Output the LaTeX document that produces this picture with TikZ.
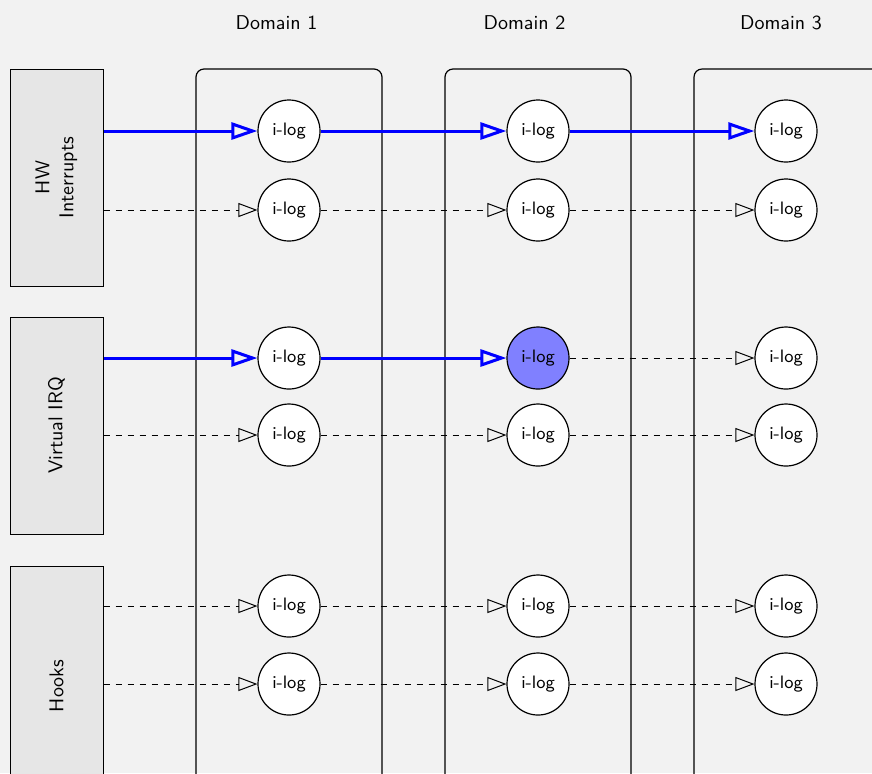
\documentclass[tikz,border=0pt]{standalone}
\usetikzlibrary{arrows.meta}
\definecolor{bggray}{HTML}{F2F2F2}
\definecolor{srcgray}{HTML}{E6E6E6}
\definecolor{hilite}{HTML}{8080FF}
\tikzset{
  ilog/.style={circle, draw, fill=white, minimum size=31pt, inner sep=0pt, font=\sffamily\small},
  cell32/.style={fill=hilite},
  source/.style={draw, fill=srcgray, line width=0.5pt, minimum width=46.5pt, inner sep=0pt, font=\sffamily},
  domainbox/.style={draw, rounded corners=4pt},
  strong/.style={draw=blue, line width=1.5pt, -{Triangle[open,length=13pt,width=8.5pt]}},
  weak/.style={dashed, line width=0.5pt, -{Triangle[open,length=9.5pt,width=7pt]}}
}
\begin{document}
\begin{tikzpicture}[x=0.5pt, y=-0.5pt, line width=0.6pt]
\useasboundingbox (0,0) rectangle (872,773);
\fill[bggray] (0,0) rectangle (872,773);
\clip (0,0) rectangle (872,773);
% domains
\draw[domainbox] (196,820) |- (382,69) -- (382,820);
\draw[domainbox] (445,820) |- (631,69) -- (631,820);
\draw[domainbox] (694,820) |- (920,69) -- (920,820);
\node[font=\sffamily] (dom1) at (276.5,23) {Domain 1};
\node[font=\sffamily] (dom2) at (524.5,23) {Domain 2};
\node[font=\sffamily] (dom3) at (781,23) {Domain 3};
% sources
\node[source, minimum height=108.5pt] (hw) at (56.5,177.5)
  {\rotatebox{90}{\begin{tabular}{@{}c@{}}HW\\Interrupts\end{tabular}}};
\node[source, minimum height=108.5pt] (virq) at (56.5,425.5) {\rotatebox{90}{Virtual IRQ}};
\node[source, minimum height=120pt] (hooks) at (56.5,686) {\rotatebox{90}{Hooks}};
% i-log nodes
\foreach \c/\x in {1/289,2/538,3/786}
  \foreach \r/\y in {1/131,2/210,3/358,4/435,5/606,6/684}
    \node[ilog, cell\r\c/.try] (c\r\c) at (\x,\y) {i-log};
% paths
\foreach \r/\s in {2/hw,4/virq,5/hooks,6/hooks}{
  \draw[weak] (\s.east |- c\r1) -- (c\r1);
  \draw[weak] (c\r1) -- (c\r2);
  \draw[weak] (c\r2) -- (c\r3);
}
\draw[weak] (c32) -- (c33);
\draw[strong] (hw.east |- c11) -- (c11);
\draw[strong] (c11) -- (c12);
\draw[strong] (c12) -- (c13);
\draw[strong] (virq.east |- c31) -- (c31);
\draw[strong] (c31) -- (c32);
\end{tikzpicture}
\end{document}
